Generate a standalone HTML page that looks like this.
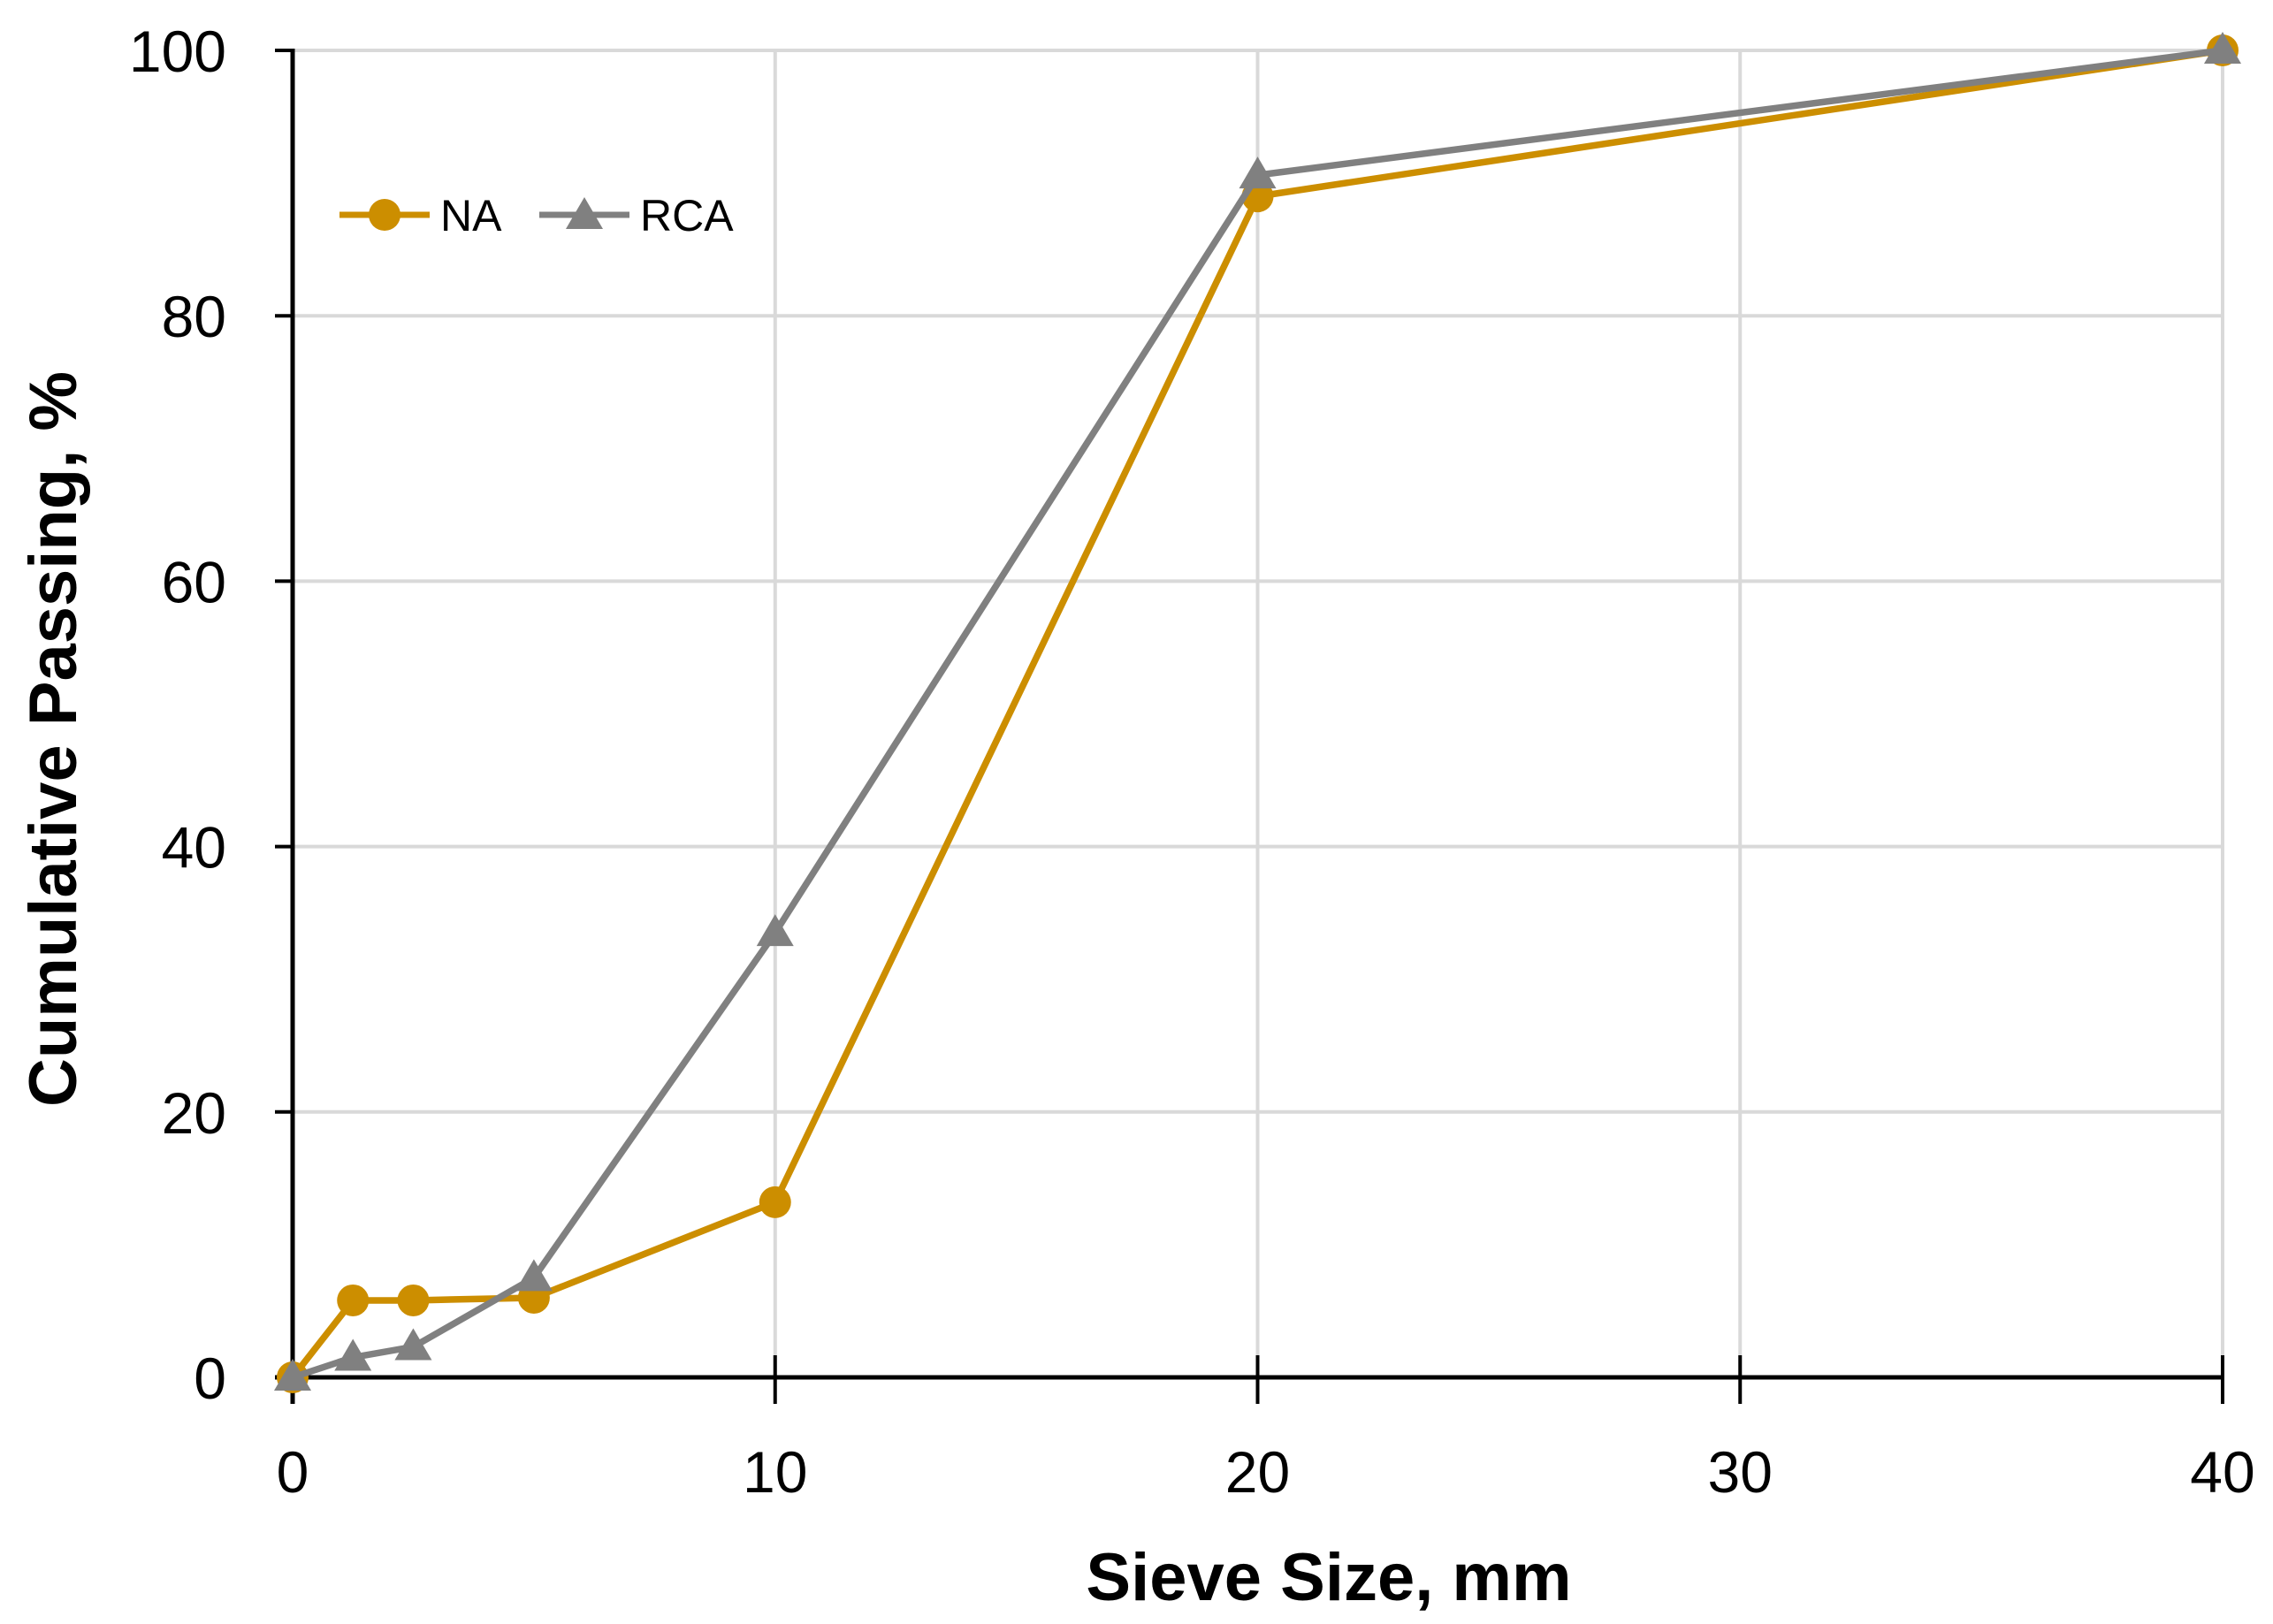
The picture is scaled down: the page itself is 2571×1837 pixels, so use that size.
<!DOCTYPE html>
<html><head><meta charset="utf-8"><style>
html,body{margin:0;padding:0;background:#fff;}
svg{display:block;font-family:"Liberation Sans",sans-serif;}
</style></head><body>
<svg id="chart" width="2571" height="1837" viewBox="0 0 2571 1837" xmlns="http://www.w3.org/2000/svg">
<g id="grid"></g><g id="axes"></g><g id="series"></g>
<text x="0" y="0" transform="translate(86,836) rotate(-90)" text-anchor="middle" font-size="76" font-weight="bold" fill="#000">Cumulative Passing, %</text>
<text x="1503" y="1810" text-anchor="middle" font-size="76" font-weight="bold" fill="#000">Sieve Size, mm</text>
<g>
<line x1="384" y1="243" x2="486" y2="243" stroke="#cc8e00" stroke-width="7"/>
<circle cx="435" cy="243" r="18" fill="#cc8e00"/>
<text x="498" y="261" font-size="50" fill="#000">NA</text>
<line x1="610" y1="243" x2="712" y2="243" stroke="#808080" stroke-width="7"/>
<polygon points="661,223 682,259 640,259" fill="#808080"/>
<text x="724" y="261" font-size="50" fill="#000">RCA</text>
</g>
</svg>
<script>
const xTicks=[0,10,20,30,40];
const yTicks=[0,20,40,60,80,100];
const sizes=[0,1.25,2.5,5,10,20,40];
const naValues=[0,5.8,5.8,6,13.2,89,100];
const rcaValues=[0,1.5,2.3,7.5,33.5,90.6,100];
const X0=331,X1=2514,Y0=1558,Y1=57;
function sx(v){return X0+(v-0)/(40-0)*(X1-X0);}
function sy(v){return Y0-(v-0)/(100-0)*(Y0-Y1);}
const NS="http://www.w3.org/2000/svg";
function mk(tag,attrs,parent){const e=document.createElementNS(NS,tag);for(const k in attrs)e.setAttribute(k,attrs[k]);parent.appendChild(e);return e;}
const grid=document.getElementById('grid'),axes=document.getElementById('axes'),ser=document.getElementById('series');
yTicks.forEach(t=>{
 if(t>0){const g=mk('line',{x1:X0,x2:X1,y1:sy(t),y2:sy(t),stroke:'#d9d9d9','stroke-width':4},grid);
 
 }
 const tk=mk('line',{x1:X0-20,x2:X0,y1:sy(t),y2:sy(t),stroke:'#000','stroke-width':4},axes);
 
 
 const lb=mk('text',{x:X0-75,y:sy(t)+24,'text-anchor':'end','font-size':66,fill:'#000'},axes);lb.textContent=t;
 
 
});
xTicks.forEach(t=>{
 if(t>0){const g=mk('line',{x1:sx(t),x2:sx(t),y1:Y1,y2:Y0,stroke:'#d9d9d9','stroke-width':4},grid);
 
 }
 const tk=mk('line',{x1:sx(t),x2:sx(t),y1:Y0-25,y2:Y0+30,stroke:'#000','stroke-width':4},axes);
 
 
 const lb=mk('text',{x:sx(t),y:Y0+130,'text-anchor':'middle','font-size':66,fill:'#000'},axes);lb.textContent=t;
 
 
});
const ya=mk('line',{x1:X0,x2:X0,y1:Y1-2,y2:Y0+30,stroke:'#000','stroke-width':5},axes);


const xa=mk('line',{x1:X0-20,x2:X1+2,y1:Y0,y2:Y0,stroke:'#000','stroke-width':5},axes);


function series(vals,color,name,marker){
 const pl=mk('polyline',{points:sizes.map((s,i)=>sx(s)+','+sy(vals[i])).join(' '),fill:'none',stroke:color,'stroke-width':7.5,'stroke-linejoin':'round'},ser);
 
 
 sizes.forEach((s,i)=>{const x=sx(s),y=sy(vals[i]);let m;
  if(marker==='circle')m=mk('circle',{cx:x,cy:y,r:18,fill:color},ser);
  else m=mk('polygon',{points:`${x},${y-21} ${x+21},${y+15} ${x-21},${y+15}`,fill:color},ser);
  
  });
}
series(naValues,'#cc8e00','na','circle');
series(rcaValues,'#808080','rca','triangle');
</script>
</body></html>
